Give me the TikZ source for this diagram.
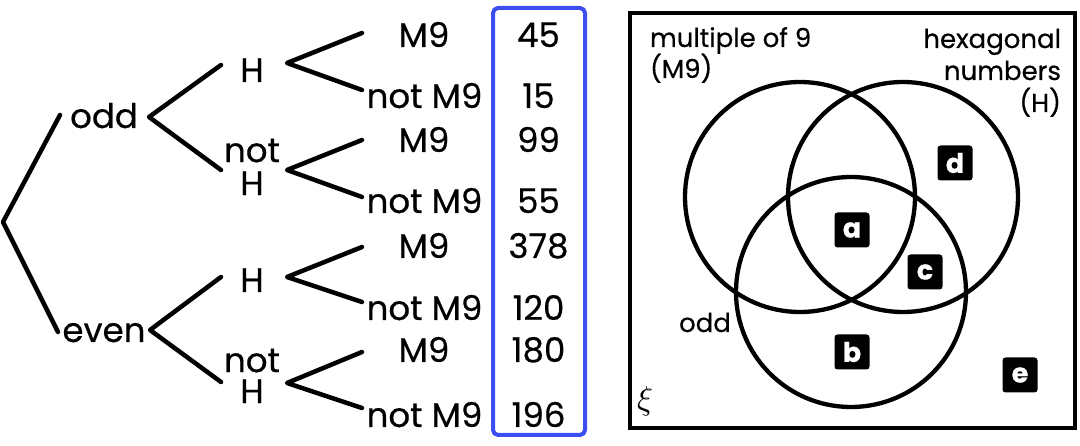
\documentclass[tikz,border=0pt]{standalone}
\usepackage{fontspec}
\setmainfont{Poppins}[FakeBold=0.5]
\definecolor{boxblue}{RGB}{60,78,240}
\begin{document}
\begin{tikzpicture}[x=1pt,y=-1pt, line width=4pt, line cap=round, line join=round,
  lbl/.style={font=\fontsize{34}{34}\selectfont, inner sep=0pt},
  vlbl/.style={font=\fontsize{26}{32}\selectfont, inner sep=0pt},
  tag/.style={fill=black, rounded corners=3pt, minimum size=35pt, inner sep=0pt, text=white, font=\fontsize{27}{27}\selectfont\bfseries},
  branch/.style={line width=4.5pt}]
\useasboundingbox (0,0) rectangle (1080,446);

% ---------- tree ----------
\coordinate (root) at (3,222);
\coordinate (rootA) at (60,115);
\coordinate (rootB) at (58,332);
\node[lbl, anchor=base] (odd) at (104,128) {odd};
\node[lbl, anchor=base] (even) at (104,342) {even};
\draw[branch] (rootA) -- (root) -- (rootB);

\coordinate (oddV) at (149,117);
\coordinate (oddA) at (221,65);
\coordinate (oddB) at (221,170);
\coordinate (evenV) at (150,330);
\coordinate (evenA) at (221,277);
\coordinate (evenB) at (221,382);
\draw[branch] (oddA) -- (oddV) -- (oddB);
\draw[branch] (evenA) -- (evenV) -- (evenB);

\node[lbl, anchor=base] (h1) at (252,82) {H};
\node[lbl, align=center, font=\fontsize{34}{33}\selectfont] (nh1) at (252,167) {not\\H};
\node[lbl, anchor=base] (h2) at (252,292) {H};
\node[lbl, align=center, font=\fontsize{34}{31}\selectfont] (nh2) at (252,376) {not\\H};

\foreach \i/\vy/\ay/\by in {1/63/33/90, 2/170/140/197, 3/277/247/302, 4/383/352/408}{
  \coordinate (v\i) at (287,\vy);
  \coordinate (a\i) at (362,\ay);
  \coordinate (b\i) at (362,\by);
  \draw[branch] (a\i) -- (v\i) -- (b\i);
}

\foreach \i/\y in {1/47, 3/152, 5/258, 7/362}{
  \node[lbl, anchor=base] (m\i) at (424,\y) {M9};
}
\foreach \i/\y in {2/108, 4/213, 6/320, 8/427}{
  \node[lbl, anchor=base] (m\i) at (424.5,\y) {not M9};
}

% ---------- numbers ----------
\draw[boxblue, line width=4pt, rounded corners=5pt] (493,8) rectangle (585,435);
\foreach \i/\y/\t in {1/47/45, 2/108/15, 3/152/99, 4/213/55, 5/258/378, 6/320/120, 7/362/180, 8/427/196}{
  \node[lbl, anchor=base] (n\i) at (538.5,\y) {\t};
}

% ---------- Venn ----------
\draw[line width=4pt, line cap=butt, line join=miter] (630,13) rectangle (1075,428);
\draw[line width=4.3pt] (800,197) circle (115);
\draw[line width=4.3pt] (903,197) circle (115);
\draw[line width=4.3pt] (851,292) circle (115);

\node[vlbl, anchor=base west] (m9a) at (648,47) {multiple of 9};
\node[vlbl, anchor=base west] (m9b) at (648,78) {(M9)};
\node[vlbl, anchor=base east] (hx1) at (1063,48) {hexagonal};
\node[vlbl, anchor=base east] (hx2) at (1063,80) {numbers};
\node[vlbl, anchor=base east] (hx3) at (1063,112) {(H)};
\node[vlbl, anchor=base] (oddv) at (705,332) {odd};
\node[inner sep=0pt] (xi) at (645,401) {\scalebox{3.3}{$\xi$}};

\node[tag] (ta) at (852,230) {a};
\node[tag] (tb) at (852,352) {b};
\node[tag] (tc) at (925,272) {c};
\node[tag] (td) at (955,163) {d};
\node[tag] (te) at (1020,375) {e};
\end{tikzpicture}
\end{document}
